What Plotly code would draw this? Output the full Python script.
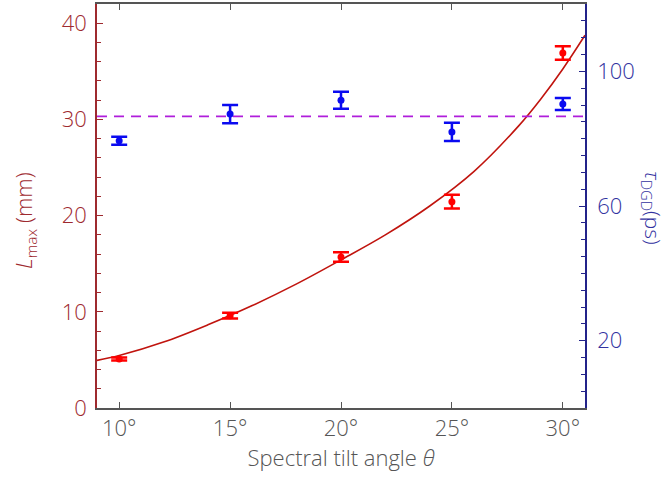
import plotly.graph_objects as go

# ---- data ----
theta = [10, 15, 20, 25, 30]
L_max = [5.1, 9.6, 15.7, 21.45, 36.9]
L_err = [0.15, 0.3, 0.5, 0.72, 0.7]
tau = [79.4, 87.3, 91.4, 82.0, 90.3]
tau_err = [1.2, 2.7, 2.5, 2.7, 1.8]

fit_theta = [9, 10, 12, 14, 16, 18, 20, 22, 24, 26, 28, 29, 30, 31]
fit_L = [4.95, 5.45, 6.85, 8.65, 10.65, 12.9, 15.4, 18.0, 21.0, 24.6, 29.3, 32.1, 35.25, 38.75]

tau_ref = 86.6  # dashed reference level on right axis
x_range = [9, 31]
tick_vals = [10, 15, 20, 25, 30]
tick_text = ["10°", "15°", "20°", "25°", "30°"]

FONT = "Open Sans"
RED_AX = "#9E2A2F"
BLUE_AX = "#23238A"
BLUE_TXT = "#3232A0"
GRAY = "#555555"

fig = go.Figure()

fig.add_trace(go.Scatter(
    x=fit_theta, y=fit_L, mode="lines", line=dict(color="#C0140E", width=1.6, shape="spline", smoothing=1.0),
    yaxis="y", showlegend=False, hoverinfo="skip"))

fig.add_trace(go.Scatter(
    x=x_range, y=[tau_ref, tau_ref], mode="lines",
    line=dict(color="#B01EDB", width=1.8, dash="10px,7px"),
    yaxis="y2", showlegend=False))

fig.add_trace(go.Scatter(
    x=theta, y=L_max, mode="markers",
    marker=dict(color="#FF0000", size=7),
    error_y=dict(type="data", array=L_err, color="#FF0000", thickness=2.5, width=8),
    yaxis="y", showlegend=False))

fig.add_trace(go.Scatter(
    x=theta, y=tau, mode="markers",
    marker=dict(color="#0A0AF0", size=7),
    error_y=dict(type="data", array=tau_err, color="#0A0AF0", thickness=2.5, width=8),
    yaxis="y2", showlegend=False))

fig.update_layout(
    width=668, height=481,
    margin=dict(l=97, r=83, t=2, b=73),
    paper_bgcolor="white", plot_bgcolor="white",
    font=dict(family=FONT, size=22, weight=300),
    xaxis=dict(
        range=x_range, tickvals=tick_vals, ticktext=tick_text,
        ticks="inside", ticklen=6, tickwidth=1.2, tickcolor=GRAY,
        showline=True, linecolor=GRAY, linewidth=1.5, mirror="ticks",
        showgrid=False, zeroline=False,
        tickfont=dict(color=GRAY, size=22, family=FONT, weight=300),
        title=dict(text="Spectral tilt angle <i>θ</i>", font=dict(color=GRAY, size=22, family=FONT, weight=300), standoff=4),
    ),
    yaxis=dict(
        range=[0, 42], tickvals=[0, 10, 20, 30, 40],
        ticks="inside", ticklen=6, tickwidth=1.2, tickcolor=RED_AX,
        minor=dict(dtick=2, ticks="inside", ticklen=4, tickcolor=RED_AX, showgrid=False),
        showline=True, linecolor=RED_AX, linewidth=1.5,
        showgrid=False, zeroline=False,
        tickfont=dict(color=RED_AX, size=22, family=FONT, weight=300),
        ticklabelstandoff=4,
    ),
    yaxis2=dict(
        range=[0, 120], tickvals=[20, 60, 100], overlaying="y", side="right",
        ticks="inside", ticklen=6, tickwidth=1.2, tickcolor=BLUE_AX,
        minor=dict(dtick=5, ticks="inside", ticklen=4, tickcolor=BLUE_AX, showgrid=False),
        showline=True, linecolor=BLUE_AX, linewidth=1.5,
        showgrid=False, zeroline=False,
        tickfont=dict(color=BLUE_TXT, size=22, family=FONT, weight=300),
        ticklabelstandoff=6,
    ),
    annotations=[
        dict(text="<i>L</i><sub>max</sub> (mm)", xref="paper", yref="paper",
             x=(25 - 97) / 488, y=(408 - 220) / 406, textangle=-90, showarrow=False,
             xanchor="center", yanchor="middle",
             font=dict(color=RED_AX, size=22, family=FONT, weight=300)),
        dict(text="<i>τ</i><sub>DGD</sub>(ps)", xref="paper", yref="paper",
             x=(652 - 97) / 488, y=(408 - 207) / 406, textangle=90, showarrow=False,
             xanchor="center", yanchor="middle",
             font=dict(color=BLUE_TXT, size=21, family=FONT, weight=300)),
    ],
)

fig.write_html("out.html", config={"displayModeBar": False},
               post_script="document.body.style.margin='0';document.body.style.padding='0';")
